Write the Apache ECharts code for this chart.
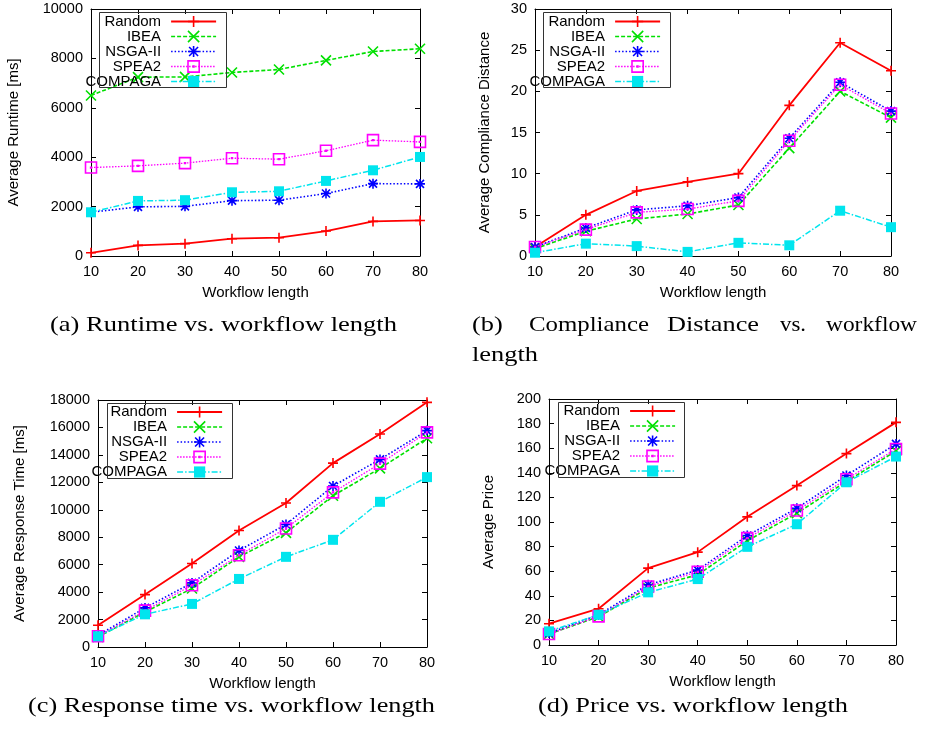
<!DOCTYPE html>
<html><head><meta charset="utf-8">
<script src="https://cdn.jsdelivr.net/npm/echarts@6/dist/echarts.min.js"></script>
<style>html,body{margin:0;padding:0;background:#fff}#c{width:925px;height:733px}</style>
</head><body><div id="c"></div>
<script>
// ---------------- data ----------------
const workflowLengths = [10, 20, 30, 40, 50, 60, 70, 80];
const seriesNames = ['Random', 'IBEA', 'NSGA-II', 'SPEA2', 'COMPAGA'];

// (a) Average Runtime [ms]
const runtimeRandom  = [130, 430, 500, 700, 740, 1010, 1400, 1440];
const runtimeIBEA    = [6500, 7240, 7250, 7430, 7550, 7920, 8280, 8390];
const runtimeNSGA2   = [1770, 1990, 2010, 2240, 2260, 2530, 2930, 2920];
const runtimeSPEA2   = [3580, 3650, 3760, 3960, 3920, 4260, 4690, 4620];
const runtimeCOMPAGA = [1770, 2230, 2260, 2580, 2620, 3040, 3470, 4010];

// (b) Average Compliance Distance
const complianceRandom  = [1.1, 5.0, 7.9, 9.0, 10.0, 18.3, 25.9, 22.5];
const complianceIBEA    = [0.9, 3.0, 4.5, 5.1, 6.2, 13.1, 20.0, 16.8];
const complianceNSGA2   = [1.1, 3.4, 5.6, 6.1, 7.1, 14.3, 21.1, 17.6];
const complianceSPEA2   = [1.1, 3.2, 5.3, 5.7, 6.7, 14.0, 20.8, 17.3];
const complianceCOMPAGA = [0.4, 1.5, 1.2, 0.5, 1.6, 1.3, 5.5, 3.5];

// (c) Average Response Time [ms]
const responseRandom  = [1580, 3820, 6080, 8490, 10490, 13400, 15520, 17830];
const responseIBEA    = [730, 2550, 4260, 6570, 8320, 11020, 13020, 15210];
const responseNSGA2   = [850, 2850, 4670, 7030, 8930, 11730, 13670, 15770];
const responseSPEA2   = [780, 2650, 4500, 6690, 8640, 11270, 13360, 15640];
const responseCOMPAGA = [780, 2380, 3140, 4960, 6570, 7810, 10580, 12380];

// (d) Average Price
const priceRandom  = [17.3, 29.5, 62.5, 75.5, 104.2, 129.6, 155.6, 181.0];
const priceIBEA    = [8.9, 23.0, 46.3, 57.1, 84.7, 107.2, 132.9, 157.8];
const priceNSGA2   = [9.7, 24.6, 49.0, 60.9, 89.0, 111.2, 137.8, 163.5];
const priceSPEA2   = [8.9, 23.3, 47.6, 59.5, 86.9, 109.3, 134.8, 159.4];
const priceCOMPAGA = [11.1, 24.6, 42.8, 53.6, 79.8, 98.2, 132.3, 153.2];

const yTitles = ['Average Runtime [ms]', 'Average Compliance Distance', 'Average Response Time [ms]', 'Average Price'];
const xTitle = 'Workflow length';
const yMax = [10000, 30, 18000, 200];
const yStep = [2000, 5, 2000, 20];
const captionA = '(a) Runtime vs. workflow length';
const captionBWords = ['(b)', 'Compliance', 'Distance', 'vs.', 'workflow'];
const captionBLine2 = 'length';
const captionC = '(c) Response time vs. workflow length';
const captionD = '(d) Price vs. workflow length';

const panelData = [
  [runtimeRandom, runtimeIBEA, runtimeNSGA2, runtimeSPEA2, runtimeCOMPAGA],
  [complianceRandom, complianceIBEA, complianceNSGA2, complianceSPEA2, complianceCOMPAGA],
  [responseRandom, responseIBEA, responseNSGA2, responseSPEA2, responseCOMPAGA],
  [priceRandom, priceIBEA, priceNSGA2, priceSPEA2, priceCOMPAGA]
];

// ---------------- styles ----------------
const SYM_PLUS  = 'path://M0,-1L0,1M-1,0L1,0';
const SYM_CROSS = 'path://M-1,-1L1,1M-1,1L1,-1';
const SYM_STAR  = 'path://M0,-1L0,1M-1,0L1,0M-0.8,-0.8L0.8,0.8M-0.8,0.8L0.8,-0.8';
const SYM_BOX   = 'path://M-1,-1L1,-1L1,1L-1,1Z M-0.07,-0.07L0.07,-0.07L0.07,0.07L-0.07,0.07Z';

const STY = {
  'Random':  {color:'#ff0000', dash:'solid',        width:1.8, symbol:SYM_PLUS,  size:10, fill:'#ff0000',     bw:1.6},
  'IBEA':    {color:'#00e000', dash:[4,2],          width:1.6, symbol:SYM_CROSS, size:10, fill:'#00e000',     bw:1.6},
  'NSGA-II': {color:'#0000ff', dash:[1.5,2],        width:1.6, symbol:SYM_STAR,  size:10, fill:'#0000ff',     bw:1.6},
  'SPEA2':   {color:'#ff00ff', dash:[1.5,1.5],      width:1.3, symbol:SYM_BOX,   size:11, fill:'transparent', bw:1.6},
  'COMPAGA': {color:'#00e5ee', dash:[6,2,1.5,2],    width:1.5, symbol:'rect',    size:10, fill:'#00e5ee',     bw:0}
};

const grids = [
  {left: 91,  top: 9,   width: 329, height: 247},
  {left: 535, top: 9,   width: 356, height: 247},
  {left: 98,  top: 400, width: 329, height: 247},
  {left: 549, top: 399, width: 347, height: 246}
];
// legend: right edge of the line samples, top of first row; frame boxes
const legendPos = [{right: 708, top: 14}, {right: 264, top: 14}, {right: 702, top: 404.5}, {right: 249, top: 403.5}];
const legendBoxes = [[99, 12, 127, 75], [543, 12, 127, 75], [107, 403, 125, 75], [558, 402, 126, 75]];
const yNameGap = [70, 43, 71, 53];

const FONT = 'Liberation Sans';
const tickFont = {color:'#000', fontSize:14.5, fontFamily:FONT};
const nameFont = {color:'#000', fontSize:15, fontFamily:FONT};
const plainNum = v => String(v);

function axisCommon(extra) {
  return Object.assign({
    axisLine:{show:true, onZero:false, lineStyle:{color:'#000', width:1}},
    axisTick:{show:true, inside:true, length:5, lineStyle:{color:'#000', width:1}},
    splitLine:{show:false},
    nameMoveOverlap:false
  }, extra);
}

const xAxes = [], yAxes = [], series = [], legends = [];
grids.forEach((g, gi) => {
  xAxes.push(axisCommon({type:'value', gridIndex:gi, position:'bottom', min:10, max:80, interval:10,
    axisLabel:Object.assign({margin:8, formatter:plainNum}, tickFont),
    name:xTitle, nameLocation:'middle', nameGap:29, nameTextStyle:nameFont}));
  xAxes.push(axisCommon({type:'value', gridIndex:gi, position:'top', min:10, max:80, interval:10,
    axisLabel:{show:false}}));
  yAxes.push(axisCommon({type:'value', gridIndex:gi, position:'left', min:0, max:yMax[gi], interval:yStep[gi],
    axisLabel:Object.assign({margin:8, formatter:plainNum}, tickFont),
    name:yTitles[gi], nameLocation:'middle', nameGap:yNameGap[gi], nameTextStyle:nameFont}));
  yAxes.push(axisCommon({type:'value', gridIndex:gi, position:'right', min:0, max:yMax[gi], interval:yStep[gi],
    axisLabel:{show:false}}));

  seriesNames.forEach((nm, si) => {
    const s = STY[nm];
    series.push({
      type:'line', name:nm, xAxisIndex:gi*2, yAxisIndex:gi*2,
      data: workflowLengths.map((x, i) => [x, panelData[gi][si][i]]),
      symbol:s.symbol, symbolSize:s.size, showAllSymbol:true,
      lineStyle:{color:s.color, width:s.width, type:s.dash},
      itemStyle:{color:s.fill, borderColor:s.color, borderWidth:s.bw},
      emphasis:{disabled:true}, animation:false, z:2+si
    });
  });

  legends.push({
    orient:'vertical', align:'right', right:legendPos[gi].right, top:legendPos[gi].top,
    padding:0, itemGap:0, itemWidth:45, itemHeight:14,
    borderWidth:0, backgroundColor:'transparent',
    selectedMode:false,
    textStyle:{color:'#000', fontSize:15, fontFamily:FONT, lineHeight:15, padding:[0,5,0,0]},
    data: seriesNames.map(nm => {
      const s = STY[nm];
      return {name:nm,
        itemStyle:{color:s.fill, borderColor:s.color, borderWidth:s.bw},
        lineStyle:{color:s.color, width:s.width, type:s.dash}};
    })
  });
});

// ---------------- captions & legend frames ----------------
const measure = (function(){
  const cv = document.createElement('canvas').getContext('2d');
  return function(t, font){ cv.font = font; return cv.measureText(t).width; };
})();
const CAP_FONT_SIZE = 21;
const CAP_FONT = CAP_FONT_SIZE + 'px "Liberation Serif"';
function capText(t, left, mid, sx) {
  return {type:'text', x:left, y:mid, scaleX:sx, silent:true,
    style:{text:t, x:0, y:0, font:CAP_FONT, fill:'#000', align:'left', verticalAlign:'middle'}};
}
const sA = 347 / measure(captionA, CAP_FONT);
const sC = 407 / measure(captionC, CAP_FONT);
const sD = 310 / measure(captionD, CAP_FONT);
const sB = (sA + sC + sD) / 3;
// [left, right] extents of the justified words of caption (b)
const bExtents = [[472, null], [529, 649], [667, 759], [780, 806], [826, 917]];
const graphics = [
  capText(captionA, 50, 325, sA),
  capText(captionC, 28, 706, sC),
  capText(captionD, 538, 706, sD),
  capText(captionBLine2, 472, 355, sB)
];
captionBWords.forEach((w, i) => {
  const e = bExtents[i];
  const sx = e[1] == null ? sB : (e[1] - e[0]) / measure(w, CAP_FONT);
  graphics.push(capText(w, e[0], 325, sx));
});
legendBoxes.forEach(b => graphics.push({type:'rect', silent:true, z:10,
  shape:{x:b[0] + 0.5, y:b[1] + 0.5, width:b[2], height:b[3]},
  style:{fill:'none', stroke:'#333', lineWidth:1}}));

const chart = echarts.init(document.getElementById('c'), null, {renderer:'canvas'});
chart.setOption({
  animation:false,
  backgroundColor:'#fff',
  grid: grids.map(g => Object.assign({containLabel:false, outerBoundsMode:'none'}, g)),
  xAxis:xAxes, yAxis:yAxes, series:series, legend:legends, graphic:graphics
});
</script></body></html>
